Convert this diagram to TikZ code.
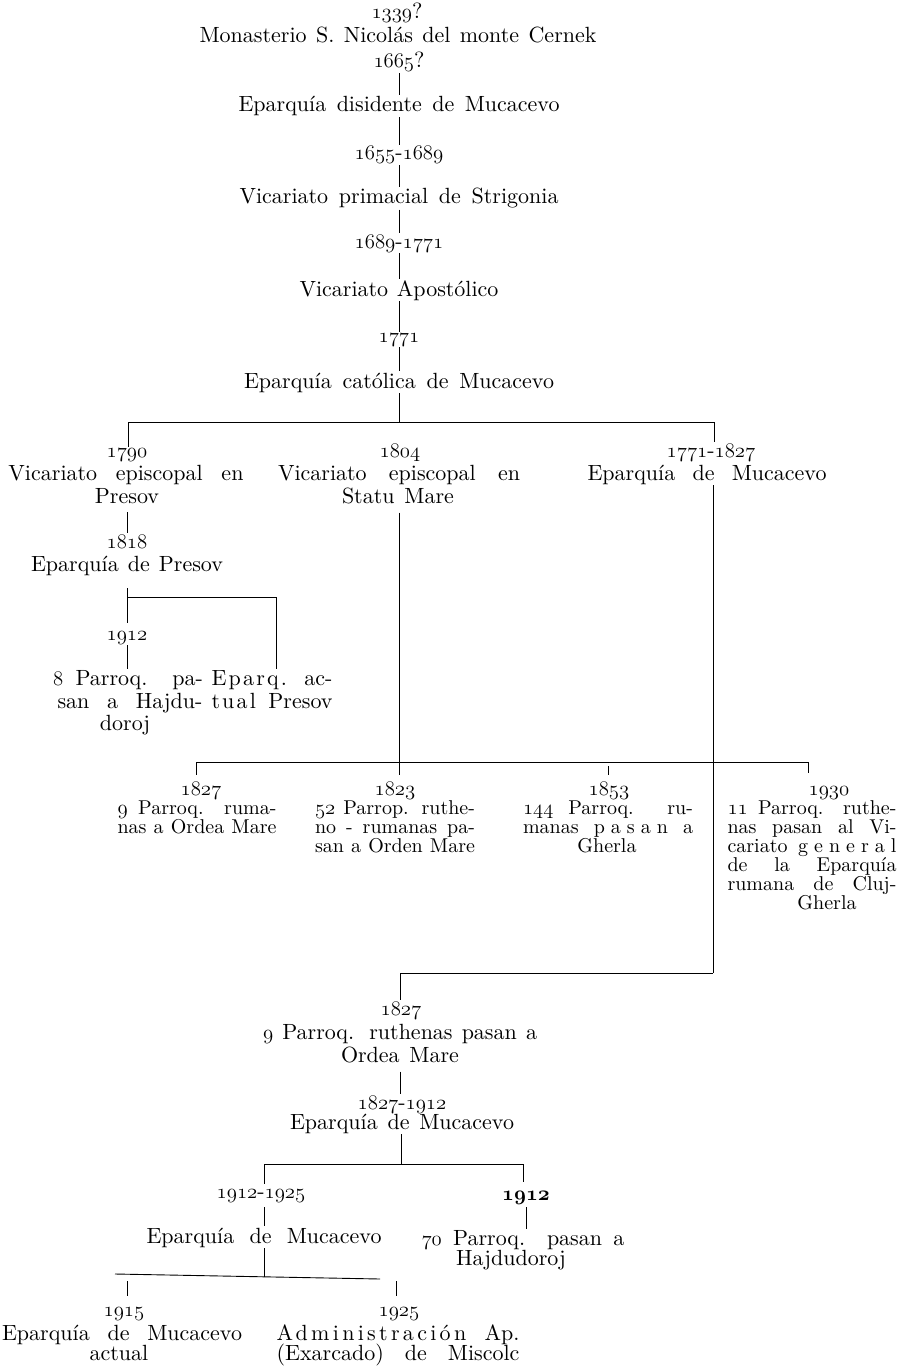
\documentclass[tikz,border=0pt]{standalone}
\usepackage{fontspec}
\setmainfont{lmroman10-regular.otf}
\usetikzlibrary{calc}
\newcommand\os[1]{{\fontencoding{OML}\fontfamily{lmm}\fontseries{m}\fontshape{it}\selectfont #1}}
\newcommand\osb[1]{{\fontencoding{OML}\fontfamily{cmm}\fontseries{b}\fontshape{it}\fontsize{20.74}{22}\selectfont #1}}
\newcommand\jl[2]{\makebox[#1pt][s]{#2}}
\newcommand\lsp[2]{{\addfontfeatures{LetterSpace=#1}#2}}
\tikzset{
  lbl/.style={anchor=base, inner sep=1pt},
  sm/.style={anchor=base, inner sep=1pt, font=\fontsize{20}{20}\selectfont},
  ln/.style={line width=0.9pt, black},
}
\newcommand\vl[3][]{\draw[ln,#1] (#2.south) -- (#2.south |- #3.north);}
\begin{document}
\begin{tikzpicture}[x=1pt,y=-1pt, every node/.style={font=\fontsize{22}{22}\selectfont}]
\useasboundingbox (0,0) rectangle (909,1367);

% ---- top chain
\node[lbl] (y1339) at (397,19) {\os{1339}?};
\node[lbl] (tMon) at (398,43) {\jl{397}{Monasterio S. Nicolás del monte Cernek}};
\node[lbl] (y1665) at (399,68) {\os{1665}?};
\node[lbl] (tDis) at (399,112) {\jl{321}{Eparquía disidente de Mucacevo}};
\node[lbl] (y1655) at (399,160) {\os{1655}-\os{1689}};
\node[lbl] (tPri) at (399,204) {\jl{319}{Vicariato primacial de Strigonia}};
\node[lbl] (y1689) at (399,248) {\os{1689}-\os{1771}};
\node[lbl] (tApo) at (399,296) {\jl{199}{Vicariato Apostólico}};
\node[lbl] (y1771) at (399,342) {\os{1771}};
\node[lbl] (tCat) at (399,388) {\jl{310}{Eparquía católica de Mucacevo}};

\vl{y1665}{tDis}
\vl{tDis}{y1655}
\vl{y1655}{tPri}
\vl{tPri}{y1689}
\vl{y1689}{tApo}
\vl{tApo}{y1771}
\vl{y1771}{tCat}

\coordinate (j1) at (399,422);
\coordinate (b1L) at (128,422);
\coordinate (b1R) at (714,422);

% ---- left column
\node[lbl] (y1790) at (127,457) {\os{1790}};
\node[lbl] (tVE1) at (126,480) {\jl{235}{Vicariato episcopal en}};
\node[lbl] (tPre) at (127,503) {Presov};
\node[lbl] (y1818) at (127,548) {\os{1818}};
\node[lbl] (tEPre) at (127,571) {\jl{192}{Eparquía de Presov}};
\node[lbl] (y1912a) at (127,640) {\os{1912}};
\node[lbl] (t8a) at (128,685) {\jl{150}{\os{8} Parroq. pa-}};
\node[lbl] (t8b) at (130,708) {\jl{145}{san a Hajdu-}};
\node[lbl] (t8c) at (125,730) {doroj};
\node[lbl] (tEPa1) at (272,685) {\jl{121}{\lsp{10}{Eparq.} ac-}};
\node[lbl] (tEPa2) at (272,708) {\jl{121}{\lsp{10}{tual} Presov}};

% ---- middle column
\node[lbl] (y1804) at (400,457) {\os{1804}};
\node[lbl] (tVE2) at (399,480) {\jl{242}{Vicariato episcopal en}};
\node[lbl] (tSM) at (398,503) {\jl{112}{Statu Mare}};

% ---- right column
\node[lbl] (y1771b) at (711,457) {\os{1771}-\os{1827}};
\node[lbl] (tEMu1) at (707,480) {\jl{239}{Eparquía de Mucacevo}};

\draw[ln] (tCat.south) -- (j1);
\draw[ln] (b1L) -- (b1R);
\draw[ln] (b1L) -- (b1L |- y1790.north);
\draw[ln] (b1R) -- (b1R |- y1771b.north);

\draw[ln, shorten <=8pt] (tPre.south) -- (tPre.south |- y1818.north);
\coordinate (jP) at (127,597);
\coordinate (jPR) at (276,597);
\draw[ln, shorten <=12pt, shorten >=7pt] (tEPre.south) -- (tEPre.south |- y1912a.north);
\draw[ln] (jP) -- (jPR) -- (jPR |- tEPa1.north);
\draw[ln] (y1912a.south) -- (y1912a.south |- t8a.north);

\coordinate (j2) at (399,762);
\coordinate (j4) at (713,973);
\draw[ln, shorten <=8pt] (j2 |- tSM.south) -- (j2);
\draw[ln] (j4 |- tEMu1.south) -- (j4);

% ---- second bar
\coordinate (b2L) at (196,762);
\coordinate (b2R) at (808,762);
\coordinate (b2c) at (608,762);
\draw[ln] (b2L) -- (b2R);

\node[sm] (y1827a) at (201,795) {\os{1827}};
\node[sm] (t9a) at (197,814) {\jl{159}{\os{9} Parroq. ruma-}};
\node[sm] (t9b) at (197,833) {\jl{159}{nas a Ordea Mare}};

\node[sm] (y1823) at (395,795) {\os{1823}};
\node[sm] (t52a) at (395,814) {\jl{160}{\os{52} Parrop. ruthe-}};
\node[sm] (t52b) at (395,833) {\jl{160}{no - rumanas pa-}};
\node[sm] (t52c) at (395,852) {\jl{160}{san a Orden Mare}};

\node[sm] (y1853) at (609,795) {\os{1853}};
\node[sm] (t144a) at (608,814) {\jl{170}{\os{144} Parroq. ru-}};
\node[sm] (t144b) at (608,833) {\jl{170}{manas \lsp{30}{pasan} a}};
\node[sm] (t144c) at (607,852) {Gherla};

\node[sm] (y1930) at (829,795) {\os{1930}};
\node[sm] (t11a) at (812,814) {\jl{169}{\os{11} Parroq. ruthe-}};
\node[sm] (t11b) at (812,833) {\jl{169}{nas pasan al Vi-}};
\node[sm] (t11c) at (812,852) {\jl{169}{cariato \lsp{30}{general}}};
\node[sm] (t11d) at (812,871) {\jl{169}{de la Eparquía}};
\node[sm] (t11e) at (812,890) {\jl{169}{rumana de Cluj-}};
\node[sm] (t11f) at (827,909) {Gherla};

\draw[ln, shorten >=5pt] (b2L) -- (b2L |- y1827a.north);
\draw[ln, shorten >=5pt] (j2) -- (j2 |- y1823.north);
\draw[ln, shorten <=4pt, shorten >=5pt] (b2c) -- (b2c |- y1853.north);
\draw[ln, shorten >=12pt] (b2R) -- (b2R |- y1930.north);

% ---- third bar
\coordinate (b3L) at (400,973);
\draw[ln] (b3L) -- (j4);
\node[lbl] (y1827b) at (401,1015) {\os{1827}};
\node[lbl] (t9Ra) at (400,1039) {\jl{274}{\os{9} Parroq. ruthenas pasan a}};
\node[lbl] (t9Rb) at (400,1062) {\jl{118}{Ordea Mare}};
\node[lbl] (y1827c) at (402,1109) {\os{1827}-\os{1912}};
\node[lbl] (tEMu2) at (402,1129) {\jl{224}{Eparquía de Mucacevo}};
\draw[ln] (b3L) -- (b3L |- y1827b.north);
\draw[ln, shorten <=8pt] (t9Rb.south) -- (t9Rb.south |- y1827c.north);

\coordinate (j5) at (401,1164);
\coordinate (b4L) at (264,1164);
\coordinate (b4R) at (523,1164);
\draw[ln] (j5 |- tEMu2.south) -- (j5);
\draw[ln] (b4L) -- (b4R);

\node[lbl] (y1912b) at (261,1198) {\os{1912}-\os{1925}};
\node[lbl] (tEMu3) at (264,1243) {\jl{235}{Eparquía de Mucacevo}};
\node[lbl] (y1912c) at (526,1200) {\osb{1912}};
\node[lbl] (t70a) at (523,1245) {\jl{203}{\os{70} Parroq. pasan a}};
\node[lbl] (t70b) at (511,1265) {Hajdudoroj};

\draw[ln, shorten >=4pt] (b4L) -- (b4L |- y1912b.north);
\draw[ln, shorten >=8pt] (b4R) -- (b4R |- y1912c.north);
\draw[ln, shorten <=4pt] (b4L |- y1912b.south) -- (b4L |- tEMu3.north);
\draw[ln, shorten <=2pt] (y1912c.south) -- (y1912c.south |- t70a.north);

% ---- last bar
\coordinate (b5L) at (115,1274);
\coordinate (b5R) at (380,1279);
\coordinate (j6) at (264,1277);
\draw[ln] (b5L) -- (b5R);
\draw[ln] (b4L |- tEMu3.south) -- (j6);

\node[lbl] (y1915) at (124,1316) {\os{1915}};
\node[lbl] (y1925) at (399,1316) {\os{1925}};
\node[lbl] (tEMu4) at (122,1340) {\jl{240}{Eparquía de Mucacevo}};
\node[lbl] (tAct) at (119,1360) {actual};
\node[lbl] (tAdm) at (398,1340) {\jl{243}{\lsp{15}{Administración} Ap.}};
\node[lbl] (tExa) at (398,1360) {\jl{243}{(Exarcado) de Miscolc}};

\coordinate (k1) at (127,1281);
\coordinate (k2) at (396,1281);
\draw[ln, shorten >=10pt] (k1) -- (k1 |- y1915.north);
\draw[ln, shorten >=10pt] (k2) -- (k2 |- y1925.north);
\end{tikzpicture}
\end{document}
